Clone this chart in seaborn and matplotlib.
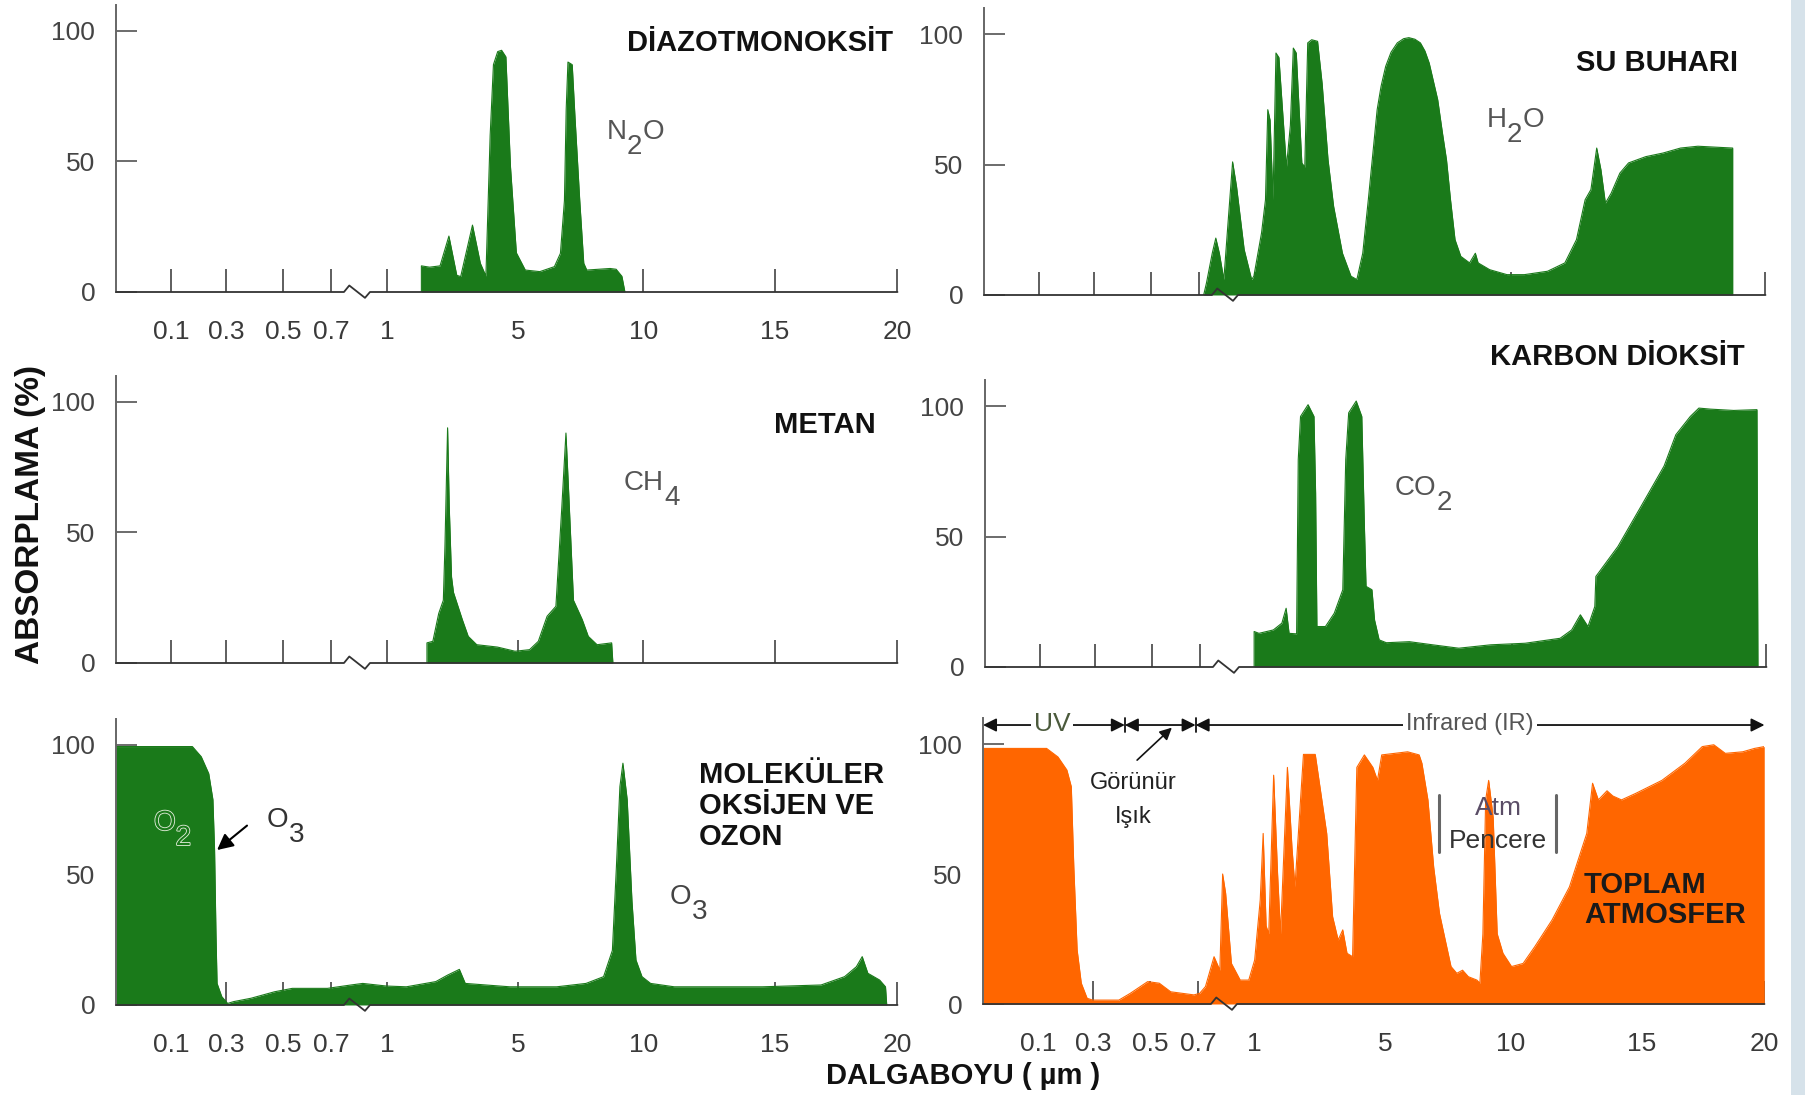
import numpy as np
import matplotlib
matplotlib.use("Agg")
import matplotlib.pyplot as plt
import matplotlib.patheffects as pe
from matplotlib.patches import Rectangle
import seaborn as sns

# ---------------- data (wavelength in micrometres, absorption in %) ----------------
TICK_UM = [0.1, 0.3, 0.5, 0.7, 1, 5, 10, 15, 20]
TICK_LABELS = ["0.1", "0.3", "0.5", "0.7", "1", "5", "10", "15", "20"]
Y_TICKS = [0, 50, 100]
Y_LABELS = ["0", "50", "100"]

N2O_UM = [2.05, 2.05, 2.30, 2.62, 2.89, 3.13, 3.25, 3.61, 3.85, 4.02, 4.15, 4.25, 4.38, 4.50, 4.63, 4.77,
          4.95, 5.29, 5.87, 6.45, 6.69, 6.85, 6.92, 6.99, 7.16, 7.27, 7.46, 7.62, 7.74, 8.67, 8.91, 9.14, 9.26]
N2O_ABS = [0, 10, 9.5, 10, 21.4, 6.4, 5.9, 25.6, 11, 6.1, 60, 87, 92, 92.5, 90, 48,
           15, 8.4, 7.8, 9.7, 14.8, 35, 70, 88, 87, 67, 35, 11, 8.4, 9, 8.7, 6, 0]

H2O_UM = [0.725, 0.740, 0.771, 0.790, 0.809, 0.833, 0.858, 0.880, 0.901, 0.942,
          0.982, 0.994, 1.20, 1.32, 1.39, 1.46, 1.55, 1.64, 1.73, 1.96,
          2.08, 2.17, 2.26, 2.43, 2.52, 2.61, 2.73, 2.91, 3.05, 3.23,
          3.40, 3.67, 3.93, 4.11, 4.29, 4.46, 4.73, 4.85, 4.99, 5.20, 5.45, 5.70, 5.91,
          6.15, 6.37, 6.55, 6.72, 7.06, 7.25, 7.41, 7.57, 7.75, 7.98, 8.33, 8.56,
          8.67, 9.13, 9.82, 10.49, 11.37, 12.03, 12.47, 12.80, 13.02, 13.24,
          13.40, 13.57, 13.79, 14.12, 14.45, 15.11, 15.82, 16.53, 17.24, 18.66, 18.66]
H2O_ABS = [0, 4.6, 16, 21.8, 16, 5.9, 30, 51, 41.6, 17.4,
           5.9, 7.2, 23.8, 36.5, 71, 67, 36.5, 92.7, 91, 49,
           65, 94.6, 92.7, 50.6, 49, 96.6, 97.8, 97.2, 81, 51.8,
           34, 16, 7.2, 5.9, 16, 36.5, 71, 80, 87.6, 93, 96.6, 98.2, 98.6,
           98, 96.6, 93.5, 88.9, 74.8, 62, 51.8, 36.5, 21.2, 14.8, 12.3, 16,
           12.3, 9.7, 7.8, 7.8, 9.1, 12.3, 21.2, 36.5, 40.4, 56.3,
           48, 35.2, 39, 46.7, 50.6, 53, 54.4, 56.3, 57, 56.3, 0]

CH4_UM = [2.22, 2.22, 2.40, 2.58, 2.72, 2.77, 2.85, 2.90, 2.97, 3.03, 3.30, 3.48, 3.74, 4.37, 4.91,
          5.46, 5.81, 6.16, 6.51, 6.74, 6.91, 7.02, 7.21, 7.56, 7.80, 8.15, 8.73, 8.78]
CH4_ABS = [0, 7.7, 8.3, 19, 24, 45, 90, 60, 33, 27, 16.6, 10.2, 7, 6.1, 4.5,
           5.1, 8.3, 17.9, 21.7, 58.7, 88, 65, 24, 16.6, 10.2, 7, 7.7, 0]

CO2_UM = [0.99, 0.99, 1.09, 1.53, 1.79, 1.92, 2.01, 2.24, 2.29, 2.36,
          2.59, 2.77, 2.82, 2.86, 3.12, 3.39, 3.65, 3.74, 3.83, 4.06,
          4.23, 4.31, 4.36, 4.54, 4.62, 4.76, 4.98, 5.89, 6.82, 7.86,
          9.13, 10.48, 11.81, 12.25, 12.58, 12.87, 13.13, 13.17, 14.01, 14.89,
          15.82, 16.30, 16.89, 17.24, 17.71, 18.66, 19.61, 19.65]
CO2_ABS = [0, 13.6, 12.9, 14.2, 16.8, 22.5, 12.9, 12.7, 79.5, 96,
           100.5, 96, 66.7, 15.5, 15.5, 20.6, 29.6, 79.5, 97.4, 101.9,
           96, 53.9, 30.9, 29.6, 18, 10.4, 9.3, 9.7, 8.5, 7.2,
           8.5, 9.1, 11, 14.2, 20, 15.5, 23.2, 34.7, 46.2, 61.6,
           77, 89, 96, 99.2, 98.8, 98.3, 98.6, 0]

O2O3_UM = [0, 0.177, 0.209, 0.236, 0.251, 0.257, 0.262, 0.266, 0.283, 0.304,
           0.325, 0.386, 0.469, 0.537, 0.685, 0.807, 0.870, 0.996, 1.59, 2.49,
           2.85, 3.21, 3.39, 4.75, 6.54, 7.71, 8.41, 8.76, 8.92, 9.06,
           9.18, 9.35, 9.54, 9.70, 9.94, 10.27, 11.17, 14.52, 16.88, 17.84,
           18.32, 18.56, 18.79, 19.27, 19.51, 19.56]
O2O3_ABS = [99.4, 99.4, 95.5, 89, 79, 59.6, 27.6, 8.3, 3.2, 0.6,
            1.3, 2.6, 5.1, 6.4, 6.4, 7.7, 8.3, 7.3, 7, 9,
            11.5, 13.7, 8.3, 7, 7, 8.3, 10.9, 21, 53, 84,
            93, 79, 40, 17.3, 10.9, 8.3, 7, 7, 7.7, 10.9,
            14.7, 18.6, 12.2, 9.6, 7, 0]

TOT_UM = [0, 0.131, 0.172, 0.204, 0.220, 0.229, 0.241, 0.256, 0.277, 0.297,
          0.389, 0.429, 0.490, 0.537, 0.585, 0.683, 0.709, 0.740, 0.786, 0.817,
          0.832, 0.848, 0.879, 0.926, 0.972, 1.02, 1.19, 1.28, 1.37, 1.45,
          1.60, 1.72, 1.81, 2.02, 2.16, 2.25, 2.51, 2.87, 3.22, 3.40,
          3.57, 3.71, 3.84, 4.01, 4.14, 4.37, 4.63, 4.77, 4.90, 5.90,
          6.36, 6.47, 6.71, 6.94, 7.17, 7.40, 7.63, 7.86, 8.09, 8.32,
          8.66, 8.78, 8.90, 9.01, 9.13, 9.31, 9.47, 9.70, 10.04, 10.48,
          10.92, 11.58, 12.24, 12.90, 13.12, 13.34, 13.67, 13.89, 14.22, 14.76,
          15.81, 16.75, 17.46, 17.93, 18.40, 19.11, 19.59, 19.99, 19.99]
TOT_ABS = [98.3, 98.3, 95, 90, 83.6, 52.8, 20.8, 8, 2.2, 1.5,
           1.5, 4.1, 8.6, 8, 4.7, 3.5, 4.1, 6.7, 18.2, 13,
           50, 42.6, 15.6, 9.2, 9.2, 16.9, 40, 65.6, 30, 27,
           88, 50, 27, 91, 60, 45, 96, 96, 65.6, 33.6,
           24.6, 28.5, 19.5, 18.2, 91, 95.8, 91, 86, 95.8, 97,
           95.8, 92.6, 78.5, 52.6, 34.9, 24.6, 14.4, 11.8, 13, 10.5,
           9.2, 8, 27, 78.5, 86, 71.7, 27, 19.5, 14.4, 15.6,
           22, 32.3, 45, 65.6, 84.9, 78.5, 82, 80, 78.5, 81,
           86, 92.6, 99, 99.7, 96.4, 97, 98.3, 99, 0]

# piecewise wavelength axis of the original figure (broken between 0.7 and 1 um)
KNOT_UM = [0, 0.1, 0.3, 0.5, 0.7, 1, 5, 10, 15, 20]
KNOT_POS = [0, 55, 110.5, 167.5, 215, 271, 402, 527.5, 659, 781.5]

GREEN = "#1a7a1a"
ORANGE = "#ff6600"

# ---------------- figure ----------------
sns.set_theme(style="white")
plt.rcParams["font.family"] = ["Liberation Sans", "DejaVu Sans"]

W, H = 1806, 1095
fig = plt.figure(figsize=(W / 100, H / 100), dpi=100)
fig.patch.set_facecolor("white")


def fwd(x):
    return np.interp(x, KNOT_UM, KNOT_POS)


def inv(p):
    return np.interp(p, KNOT_POS, KNOT_UM)


def fpos(x, y):
    return x / W, 1 - y / H


AX_W = 781.5
YMAX = 110

panels = [
    # left px, zero-line px, px per %, x, y, colour, show x labels
    (116, 292, 2.613, N2O_UM, N2O_ABS, GREEN, True),
    (984, 295, 2.61, H2O_UM, H2O_ABS, GREEN, False),
    (116, 663, 2.613, CH4_UM, CH4_ABS, GREEN, False),
    (985, 667, 2.61, CO2_UM, CO2_ABS, GREEN, False),
    (116, 1005, 2.6, O2O3_UM, O2O3_ABS, GREEN, True),
    (983, 1004, 2.6, TOT_UM, TOT_ABS, ORANGE, True),
]

axes = []
for left, y0, unit, xs, ys, col, showx in panels:
    hgt = YMAX * unit
    ax = fig.add_axes([left / W, 1 - y0 / H, AX_W / W, hgt / H])
    ax.set_xscale("function", functions=(fwd, inv))
    ax.set_xlim(0, 20)
    ax.set_ylim(0, YMAX)
    ax.patch.set_alpha(0)
    ax.fill_between(xs, ys, 0, color=col, lw=0, zorder=1)
    sns.lineplot(x=xs, y=ys, ax=ax, color=col, lw=0.8, estimator=None, sort=False, zorder=1)
    ax.set_xlabel("")
    ax.set_ylabel("")
    ax.set_xticks(TICK_UM)
    ax.set_xticklabels(TICK_LABELS if showx else [])
    ax.set_yticks(Y_TICKS)
    ax.set_yticklabels(Y_LABELS)
    ax.minorticks_off()
    ax.tick_params(axis="x", direction="in", length=16.5, width=1.1, color="#333333",
                   labelsize=19, pad=20, labelcolor="#3a3a3a", bottom=True)
    ax.tick_params(axis="y", direction="in", length=15, width=1.1, color="#444444",
                   labelsize=19, pad=15, labelcolor="#444444", left=True)
    for s in ("top", "right", "bottom"):
        ax.spines[s].set_visible(False)
    ax.spines["left"].set_color("#666666")
    ax.spines["left"].set_linewidth(1.4)
    # x axis line with the break sign
    zz = 6.5 / hgt
    ax.plot([0, 0.2917, 0.2985, 0.3186, 0.3250, 1.0], [0, 0, zz, -zz * 0.9, 0, 0],
            transform=ax.transAxes, color="#333333", lw=1.3, clip_on=False, zorder=3)
    axes.append(ax)

ax_tl, ax_tr, ax_ml, ax_mr, ax_bl, ax_br = axes

# ---------------- titles ----------------
bold = dict(fontsize=21, fontweight="bold", color="#111111")
fig.text(*fpos(893, 43), "DİAZOTMONOKSİT", ha="right", va="center", **bold)
fig.text(*fpos(1738, 63), "SU BUHARI", ha="right", va="center", **bold)
fig.text(*fpos(1745, 357), "KARBON DİOKSİT", ha="right", va="center", **bold)
fig.text(*fpos(876, 425), "METAN", ha="right", va="center", **bold)
fig.text(*fpos(699, 806), "MOLEKÜLER\nOKSİJEN VE\nOZON", ha="left", va="center",
         linespacing=1.12, **bold)
fig.text(*fpos(1584, 900), "TOPLAM\nATMOSFER", ha="left", va="center",
         linespacing=1.1, fontsize=21, fontweight="bold", color="#1a1a1a")
fig.text(*fpos(31, 515), "ABSORPLAMA (%)", rotation=90, ha="center", va="center",
         fontsize=24, fontweight="bold", color="#111111")
fig.text(*fpos(963, 1076), "DALGABOYU ( µm )", ha="center", va="center",
         fontsize=21, fontweight="bold", color="#111111")

# ---------------- chemical formulas with subscripts ----------------
renderer = fig.canvas.get_renderer()


def chem(x, y, parts, size=20, color="#555555", effects=None):
    cx = x
    for txt, sub in parts:
        t = fig.text(*fpos(cx, y + (15 if sub else 0)), txt, fontsize=size, color=color,
                     ha="left", va="center")
        if effects:
            t.set_path_effects(effects)
        cx += t.get_window_extent(renderer=renderer).width


chem(607, 132, [("N", 0), ("2", 1), ("O", 0)])
chem(1487, 120, [("H", 0), ("2", 1), ("O", 0)])
chem(624, 483, [("CH", 0), ("4", 1)])
chem(1395, 488, [("CO", 0), ("2", 1)])
chem(267, 820, [("O", 0), ("3", 1)], color="#333333")
chem(670, 897, [("O", 0), ("3", 1)], color="#444444")
chem(154, 823, [("O", 0), ("2", 1)], color=GREEN,
     effects=[pe.Stroke(linewidth=1.2, foreground="#e8f0e0"), pe.Normal()])

ax_bl.annotate("", xy=(0.266, 59.6), xytext=(0.372, 69),
               arrowprops=dict(arrowstyle="-|>", color="black", lw=1.5, mutation_scale=24,
                               shrinkA=0, shrinkB=0), annotation_clip=False)

# ---------------- total-atmosphere annotations ----------------
ARROW_Y = 107.3
for a, b in [(0.0, 0.41), (0.41, 0.69), (0.69, 20.0)]:
    ax_br.annotate("", xy=(a, ARROW_Y), xytext=(b, ARROW_Y),
                   arrowprops=dict(arrowstyle="<|-|>", color="#111111", lw=1.3,
                                   mutation_scale=20, shrinkA=0, shrinkB=0),
                   annotation_clip=False)
for b in (0.41, 0.69):
    ax_br.plot([b, b], [104.6, 110], color="#111111", lw=1.3, clip_on=False)

fig.text(*fpos(1052, 724), "UV", ha="center", va="center", fontsize=19, color="#4b5a3c",
         bbox=dict(facecolor="white", edgecolor="none", pad=2))
fig.text(*fpos(1470, 724), "Infrared (IR)", ha="center", va="center", fontsize=17,
         color="#555555", bbox=dict(facecolor="white", edgecolor="none", pad=2))
fig.text(*fpos(1133, 783), "Görünür", ha="center", va="center", fontsize=17, color="#222222")
fig.text(*fpos(1133, 817), "Işık", ha="center", va="center", fontsize=17, color="#222222")
ax_br.annotate("", xy=(0.59, 106.3), xytext=(0.453, 93.8),
               arrowprops=dict(arrowstyle="-|>", color="#111111", lw=1.2, mutation_scale=18,
                               shrinkA=0, shrinkB=0), annotation_clip=False)

fig.text(*fpos(1498, 808), "Atm", ha="center", va="center", fontsize=19, color="#5a4d66")
fig.text(*fpos(1498, 841), "Pencere", ha="center", va="center", fontsize=19, color="#333333")
for xb in (7.15, 11.73):
    ax_br.plot([xb, xb], [58.5, 80.4], color="#666666", lw=2.2)

# decorative strip at the right edge
fig.patches.append(Rectangle((1791 / W, 0), 15 / W, 1, transform=fig.transFigure,
                             facecolor="#d6e2ea", edgecolor="none", zorder=0))

fig.savefig("out.png", dpi=100)
